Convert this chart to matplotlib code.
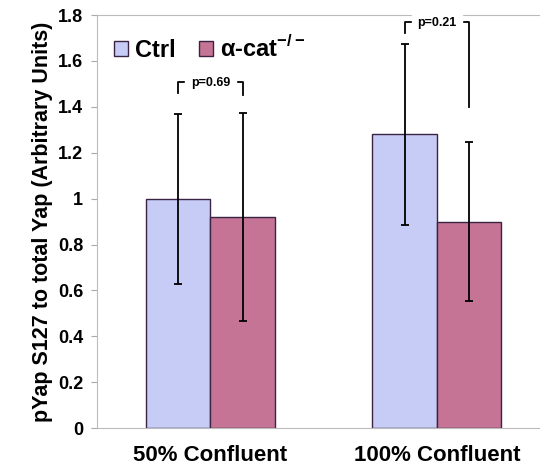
import matplotlib.pyplot as plt
import numpy as np

plt.rcParams['font.family'] = ['Liberation Sans', 'DejaVu Sans']
plt.rcParams['font.weight'] = 'bold'
plt.rcParams['axes.labelweight'] = 'bold'

groups = ["50% Confluent", "100% Confluent"]
ctrl = [1.0, 1.28]
ctrl_err = [0.37, 0.395]
acat = [0.92, 0.90]
acat_err = [0.455, 0.345]
pvals = ["p=0.69", "p=0.21"]

fig = plt.figure(figsize=(5.4, 4.71), dpi=100)
ax = fig.add_axes([0.18, 0.091, 0.82, 0.877])

x = np.arange(len(groups))
w = 0.285
ax.bar(x - w / 2, ctrl, w, color="#c6ccf6", edgecolor="#3a2343", linewidth=1.0, label="Ctrl")
ax.bar(x + w / 2, acat, w, color="#c67495", edgecolor="#3a2343", linewidth=1.0,
       label="α-cat$^{\\mathregular{-/-}}$")
ax.errorbar(x - w / 2, ctrl, yerr=ctrl_err, fmt="none", ecolor="black", elinewidth=1.3, capsize=3, capthick=1.3)
ax.errorbar(x + w / 2, acat, yerr=acat_err, fmt="none", ecolor="black", elinewidth=1.3, capsize=3, capthick=1.3)

# significance brackets
brackets = [(1.51, 1.46, 1.45), (1.77, 1.72, 1.40)]
for i, (top, l, r) in enumerate(brackets):
    x0, x1 = x[i] - w / 2, x[i] + w / 2
    ax.plot([x0, x0, x1, x1], [l, top, top, r], color="black", lw=1.3)
    ax.text((x0 + x1) / 2, top - 0.005, pvals[i], ha="center", va="center", fontsize=9,
            fontweight="bold", backgroundcolor="white")

ax.set_xlim(-0.5, 1.455)
ax.set_ylim(0, 1.8)
ax.set_yticks(np.arange(0, 1.81, 0.2))
ax.set_yticklabels(["0", "0.2", "0.4", "0.6", "0.8", "1", "1.2", "1.4", "1.6", "1.8"], fontsize=13)
ax.set_xticks(x)
ax.set_xticklabels(groups, fontsize=16)
ax.tick_params(axis="x", length=0, pad=12)
ax.tick_params(axis="y", length=4, color="#aaaaaa", pad=6)
ax.set_ylabel("pYap S127 to total Yap (Arbitrary Units)", fontsize=15.5, labelpad=4)
for s in ["left", "top", "bottom"]:
    ax.spines[s].set_color("#bbbbbb")
ax.spines["right"].set_visible(False)

ax.legend(loc="upper left", frameon=False, ncol=2, fontsize=17, handlelength=0.6, handleheight=0.6,
          handletextpad=0.3, columnspacing=1.0, bbox_to_anchor=(0.0, 0.99), borderaxespad=0.3)

fig.savefig("out.png", dpi=100)
